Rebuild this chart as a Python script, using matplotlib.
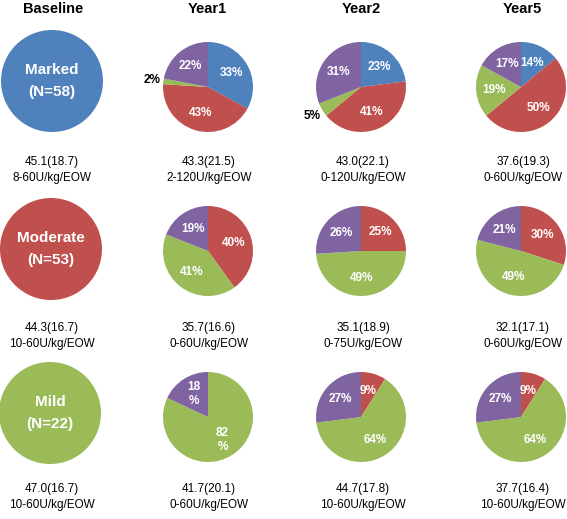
import numpy as np
import matplotlib
matplotlib.use('Agg')
import matplotlib.pyplot as plt

plt.rcParams['font.family'] = ['Liberation Sans', 'DejaVu Sans']

# ---------------- data
headers = ['Baseline', 'Year1', 'Year2', 'Year5']
groups = ['Marked', 'Moderate', 'Mild']
group_n = [58, 53, 22]
# share of patients per category: [Marked, Moderate, Mild, Other(purple)]
marked_y1 = [33, 43, 2, 22]
marked_y2 = [23, 41, 5, 31]
marked_y5 = [14, 50, 19, 17]
moderate_y1 = [0, 40, 41, 19]
moderate_y2 = [0, 25, 49, 26]
moderate_y5 = [0, 30, 49, 21]
mild_y1 = [0, 0, 82, 18]
mild_y2 = [0, 9, 64, 27]
mild_y5 = [0, 9, 64, 27]
dose_marked = ['45.1(18.7)\n8-60U/kg/EOW', '43.3(21.5)\n2-120U/kg/EOW',
               '43.0(22.1)\n0-120U/kg/EOW', '37.6(19.3)\n0-60U/kg/EOW']
dose_moderate = ['44.3(16.7)\n10-60U/kg/EOW', '35.7(16.6)\n0-60U/kg/EOW',
                 '35.1(18.9)\n0-75U/kg/EOW', '32.1(17.1)\n0-60U/kg/EOW']
dose_mild = ['47.0(16.7)\n10-60U/kg/EOW', '41.7(20.1)\n0-60U/kg/EOW',
             '44.7(17.8)\n10-60U/kg/EOW', '37.7(16.4)\n10-60U/kg/EOW']

colors = ['#4F81BD', '#C0504D', '#9BBB59', '#8064A2']
rows = [[marked_y1, marked_y2, marked_y5],
        [moderate_y1, moderate_y2, moderate_y5],
        [mild_y1, mild_y2, mild_y5]]
doses = [dose_marked, dose_moderate, dose_mild]

W, H = 567, 519
fig = plt.figure(figsize=(W / 100, H / 100), dpi=100)

# layout in pixels (from top-left)
head_x = [53, 207, 361, 522]
text_x = [52, 209, 363, 523]
pie_x = [208, 361, 521]
base_xy = [(52, 81), (51, 249), (50, 413)]
row_y = [87, 251, 417]
text_y = [170, 336, 497]
R = 45
RB = 51

def add_ax(cx, cy, r):
    ax = fig.add_axes([(cx - r) / W, 1 - (cy + r) / H, 2 * r / W, 2 * r / H])
    ax.axis('off')
    return ax

def fix_lims(ax):
    # pie() resets limits, so set them afterwards
    ax.set_xlim(-1.0, 1.0)
    ax.set_ylim(-1.0, 1.0)
    ax.set_aspect('equal')

# headers
for j, h in enumerate(headers):
    fig.text(head_x[j] / W, 1 - 9 / H, h, ha='center', va='center',
             fontsize=10.5, fontweight='bold')

for i in range(3):
    # baseline full circle
    ax = add_ax(base_xy[i][0], base_xy[i][1], RB)
    ax.pie([100], colors=[colors[i]], radius=1)
    fix_lims(ax)
    ax.text(0, 0, '%s\n(N=%d)' % (groups[i], group_n[i]), ha='center', va='center',
            color='white', fontsize=11, fontweight='bold', linespacing=1.65)
    for j in range(3):
        vals = rows[i][j]
        keep = [k for k in range(4) if vals[k] > 0]
        v = [vals[k] for k in keep]
        c = [colors[k] for k in keep]
        ax = add_ax(pie_x[j], row_y[i], R)
        wedges, _ = ax.pie(v, colors=c, startangle=90, counterclock=False, radius=1)
        fix_lims(ax)
        for w, val in zip(wedges, v):
            ang = np.deg2rad((w.theta1 + w.theta2) / 2)
            if val < 6:
                x, y = 1.25 * np.cos(ang), 1.25 * np.sin(ang)
                t = ax.text(x, y, '%d%%' % val, ha='center', va='center',
                            fontsize=8.5, fontweight='bold', color='black')
                t.set_clip_on(False)
            else:
                x, y = 0.6 * np.cos(ang), 0.6 * np.sin(ang)
                lab = '%d\n%%' % val if (i == 2 and j == 0) else '%d%%' % val
                ax.text(x, y, lab, ha='center', va='center',
                        fontsize=8.5, fontweight='bold', color='white')
    # dose text row
    for j in range(4):
        fig.text(text_x[j] / W, 1 - text_y[i] / H, doses[i][j], ha='center',
                 va='center', fontsize=8.5, linespacing=1.35)

fig.savefig('out.png', dpi=100)
